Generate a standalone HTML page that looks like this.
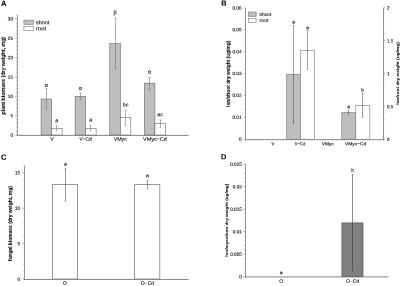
<!DOCTYPE html>
<html><head><meta charset="utf-8"><title>Figure</title>
<style>
html,body{margin:0;padding:0;background:#fff;}
body{width:400px;height:286px;overflow:hidden;}
svg{display:block;font-family:"Liberation Sans", sans-serif;}
</style></head><body>
<svg width="400" height="286" viewBox="0 0 400 286">
<rect x="0" y="0" width="400" height="286" fill="#fff"/>
<text x="1.00" y="5.90" font-size="7.6" text-anchor="start" font-weight="bold" fill="#000" stroke="#000" stroke-width="0.08" transform="rotate(0.05 1.00 5.90)">A</text>
<line x1="17.40" y1="135.90" x2="17.40" y2="15.22" stroke="#787878" stroke-width="0.8"/>
<line x1="17.40" y1="131.13" x2="16.20" y2="131.13" stroke="#787878" stroke-width="0.55"/>
<line x1="17.40" y1="127.26" x2="16.20" y2="127.26" stroke="#787878" stroke-width="0.55"/>
<line x1="17.40" y1="123.39" x2="16.20" y2="123.39" stroke="#787878" stroke-width="0.55"/>
<line x1="17.40" y1="119.52" x2="16.20" y2="119.52" stroke="#787878" stroke-width="0.55"/>
<line x1="17.40" y1="111.78" x2="16.20" y2="111.78" stroke="#787878" stroke-width="0.55"/>
<line x1="17.40" y1="107.91" x2="16.20" y2="107.91" stroke="#787878" stroke-width="0.55"/>
<line x1="17.40" y1="104.04" x2="16.20" y2="104.04" stroke="#787878" stroke-width="0.55"/>
<line x1="17.40" y1="100.17" x2="16.20" y2="100.17" stroke="#787878" stroke-width="0.55"/>
<line x1="17.40" y1="92.43" x2="16.20" y2="92.43" stroke="#787878" stroke-width="0.55"/>
<line x1="17.40" y1="88.56" x2="16.20" y2="88.56" stroke="#787878" stroke-width="0.55"/>
<line x1="17.40" y1="84.69" x2="16.20" y2="84.69" stroke="#787878" stroke-width="0.55"/>
<line x1="17.40" y1="80.82" x2="16.20" y2="80.82" stroke="#787878" stroke-width="0.55"/>
<line x1="17.40" y1="73.08" x2="16.20" y2="73.08" stroke="#787878" stroke-width="0.55"/>
<line x1="17.40" y1="69.21" x2="16.20" y2="69.21" stroke="#787878" stroke-width="0.55"/>
<line x1="17.40" y1="65.34" x2="16.20" y2="65.34" stroke="#787878" stroke-width="0.55"/>
<line x1="17.40" y1="61.47" x2="16.20" y2="61.47" stroke="#787878" stroke-width="0.55"/>
<line x1="17.40" y1="53.73" x2="16.20" y2="53.73" stroke="#787878" stroke-width="0.55"/>
<line x1="17.40" y1="49.86" x2="16.20" y2="49.86" stroke="#787878" stroke-width="0.55"/>
<line x1="17.40" y1="45.99" x2="16.20" y2="45.99" stroke="#787878" stroke-width="0.55"/>
<line x1="17.40" y1="42.12" x2="16.20" y2="42.12" stroke="#787878" stroke-width="0.55"/>
<line x1="17.40" y1="34.38" x2="16.20" y2="34.38" stroke="#787878" stroke-width="0.55"/>
<line x1="17.40" y1="30.51" x2="16.20" y2="30.51" stroke="#787878" stroke-width="0.55"/>
<line x1="17.40" y1="26.64" x2="16.20" y2="26.64" stroke="#787878" stroke-width="0.55"/>
<line x1="17.40" y1="22.77" x2="16.20" y2="22.77" stroke="#787878" stroke-width="0.55"/>
<line x1="17.40" y1="15.03" x2="16.20" y2="15.03" stroke="#787878" stroke-width="0.55"/>
<line x1="17.40" y1="135.00" x2="15.20" y2="135.00" stroke="#787878" stroke-width="0.6"/>
<text x="13.10" y="136.73" font-size="4.8" text-anchor="end" font-weight="normal" fill="#111" stroke="#111" stroke-width="0.12" transform="rotate(0.05 13.10 136.73)">0</text>
<line x1="17.40" y1="115.65" x2="15.20" y2="115.65" stroke="#787878" stroke-width="0.6"/>
<text x="13.10" y="117.38" font-size="4.8" text-anchor="end" font-weight="normal" fill="#111" stroke="#111" stroke-width="0.12" transform="rotate(0.05 13.10 117.38)">5</text>
<line x1="17.40" y1="96.30" x2="15.20" y2="96.30" stroke="#787878" stroke-width="0.6"/>
<text x="13.10" y="98.03" font-size="4.8" text-anchor="end" font-weight="normal" fill="#111" stroke="#111" stroke-width="0.12" transform="rotate(0.05 13.10 98.03)">10</text>
<line x1="17.40" y1="76.95" x2="15.20" y2="76.95" stroke="#787878" stroke-width="0.6"/>
<text x="13.10" y="78.68" font-size="4.8" text-anchor="end" font-weight="normal" fill="#111" stroke="#111" stroke-width="0.12" transform="rotate(0.05 13.10 78.68)">15</text>
<line x1="17.40" y1="57.60" x2="15.20" y2="57.60" stroke="#787878" stroke-width="0.6"/>
<text x="13.10" y="59.33" font-size="4.8" text-anchor="end" font-weight="normal" fill="#111" stroke="#111" stroke-width="0.12" transform="rotate(0.05 13.10 59.33)">20</text>
<line x1="17.40" y1="38.25" x2="15.20" y2="38.25" stroke="#787878" stroke-width="0.6"/>
<text x="13.10" y="39.98" font-size="4.8" text-anchor="end" font-weight="normal" fill="#111" stroke="#111" stroke-width="0.12" transform="rotate(0.05 13.10 39.98)">25</text>
<line x1="17.40" y1="18.90" x2="15.20" y2="18.90" stroke="#787878" stroke-width="0.6"/>
<text x="13.10" y="20.63" font-size="4.8" text-anchor="end" font-weight="normal" fill="#111" stroke="#111" stroke-width="0.12" transform="rotate(0.05 13.10 20.63)">30</text>
<line x1="17.00" y1="135.40" x2="188.70" y2="135.40" stroke="#787878" stroke-width="0.9"/>
<text x="4.60" y="75.70" font-size="4.9" text-anchor="middle" font-weight="bold" fill="#111" stroke="#111" stroke-width="0.08" transform="rotate(-90 4.60 75.70)" textLength="77.6" lengthAdjust="spacingAndGlyphs">plant biomass (dry weight, mg)</text>
<rect x="41.10" y="99.01" width="10.50" height="35.99" fill="#bebebe" stroke="#686868" stroke-width="0.6"/>
<rect x="51.60" y="128.42" width="10.50" height="6.58" fill="#fff" stroke="#686868" stroke-width="0.6"/>
<line x1="46.50" y1="88.56" x2="46.50" y2="109.07" stroke="#707070" stroke-width="0.55"/>
<line x1="45.50" y1="88.56" x2="47.50" y2="88.56" stroke="#707070" stroke-width="0.5"/>
<line x1="45.50" y1="109.07" x2="47.50" y2="109.07" stroke="#707070" stroke-width="0.5"/>
<line x1="56.50" y1="125.33" x2="56.50" y2="130.55" stroke="#707070" stroke-width="0.55"/>
<line x1="55.50" y1="125.33" x2="57.50" y2="125.33" stroke="#707070" stroke-width="0.5"/>
<line x1="55.50" y1="130.55" x2="57.50" y2="130.55" stroke="#707070" stroke-width="0.5"/>
<text x="46.35" y="86.92" font-size="5.6" text-anchor="middle" font-weight="normal" fill="#111" stroke="#111" stroke-width="0.12" transform="rotate(0.05 46.35 86.92)">α</text>
<text x="56.85" y="122.21" font-size="5.3" text-anchor="middle" font-weight="normal" fill="#111" stroke="#111" stroke-width="0.12" transform="rotate(0.05 56.85 122.21)">a</text>
<text x="51.80" y="140.80" font-size="5.0" text-anchor="middle" font-weight="normal" fill="#111" stroke="#111" stroke-width="0.12" transform="rotate(0.05 51.80 140.80)">V</text>
<rect x="75.10" y="96.30" width="10.50" height="38.70" fill="#bebebe" stroke="#686868" stroke-width="0.6"/>
<rect x="85.60" y="128.42" width="10.50" height="6.58" fill="#fff" stroke="#686868" stroke-width="0.6"/>
<line x1="80.50" y1="93.20" x2="80.50" y2="99.78" stroke="#707070" stroke-width="0.55"/>
<line x1="79.50" y1="93.20" x2="81.50" y2="93.20" stroke="#707070" stroke-width="0.5"/>
<line x1="79.50" y1="99.78" x2="81.50" y2="99.78" stroke="#707070" stroke-width="0.5"/>
<line x1="90.50" y1="125.33" x2="90.50" y2="130.55" stroke="#707070" stroke-width="0.55"/>
<line x1="89.50" y1="125.33" x2="91.50" y2="125.33" stroke="#707070" stroke-width="0.5"/>
<line x1="89.50" y1="130.55" x2="91.50" y2="130.55" stroke="#707070" stroke-width="0.5"/>
<text x="80.35" y="90.02" font-size="5.6" text-anchor="middle" font-weight="normal" fill="#111" stroke="#111" stroke-width="0.12" transform="rotate(0.05 80.35 90.02)">α</text>
<text x="90.85" y="121.61" font-size="5.3" text-anchor="middle" font-weight="normal" fill="#111" stroke="#111" stroke-width="0.12" transform="rotate(0.05 90.85 121.61)">a</text>
<text x="85.60" y="140.80" font-size="5.0" text-anchor="middle" font-weight="normal" fill="#111" stroke="#111" stroke-width="0.12" transform="rotate(0.05 85.60 140.80)" textLength="12.4" lengthAdjust="spacingAndGlyphs">V−Cd</text>
<rect x="109.80" y="43.67" width="10.50" height="91.33" fill="#bebebe" stroke="#686868" stroke-width="0.6"/>
<rect x="120.30" y="117.59" width="10.50" height="17.41" fill="#fff" stroke="#686868" stroke-width="0.6"/>
<line x1="115.50" y1="17.74" x2="115.50" y2="68.44" stroke="#707070" stroke-width="0.55"/>
<line x1="114.50" y1="17.74" x2="116.50" y2="17.74" stroke="#707070" stroke-width="0.5"/>
<line x1="114.50" y1="68.44" x2="116.50" y2="68.44" stroke="#707070" stroke-width="0.5"/>
<line x1="125.50" y1="110.23" x2="125.50" y2="125.33" stroke="#707070" stroke-width="0.55"/>
<line x1="124.50" y1="110.23" x2="126.50" y2="110.23" stroke="#707070" stroke-width="0.5"/>
<line x1="124.50" y1="125.33" x2="126.50" y2="125.33" stroke="#707070" stroke-width="0.5"/>
<text x="115.05" y="14.32" font-size="5.6" text-anchor="middle" font-weight="normal" fill="#111" stroke="#111" stroke-width="0.12" transform="rotate(0.05 115.05 14.32)">β</text>
<text x="125.55" y="106.51" font-size="5.3" text-anchor="middle" font-weight="normal" fill="#111" stroke="#111" stroke-width="0.12" transform="rotate(0.05 125.55 106.51)">bc</text>
<text x="120.30" y="140.80" font-size="5.0" text-anchor="middle" font-weight="normal" fill="#111" stroke="#111" stroke-width="0.12" transform="rotate(0.05 120.30 140.80)" textLength="13.1" lengthAdjust="spacingAndGlyphs">VMyc</text>
<rect x="144.40" y="83.14" width="10.50" height="51.86" fill="#bebebe" stroke="#686868" stroke-width="0.6"/>
<rect x="154.90" y="123.39" width="10.50" height="11.61" fill="#fff" stroke="#686868" stroke-width="0.6"/>
<line x1="149.50" y1="77.34" x2="149.50" y2="89.72" stroke="#707070" stroke-width="0.55"/>
<line x1="148.50" y1="77.34" x2="150.50" y2="77.34" stroke="#707070" stroke-width="0.5"/>
<line x1="148.50" y1="89.72" x2="150.50" y2="89.72" stroke="#707070" stroke-width="0.5"/>
<line x1="160.50" y1="119.91" x2="160.50" y2="127.65" stroke="#707070" stroke-width="0.55"/>
<line x1="159.50" y1="119.91" x2="161.50" y2="119.91" stroke="#707070" stroke-width="0.5"/>
<line x1="159.50" y1="127.65" x2="161.50" y2="127.65" stroke="#707070" stroke-width="0.5"/>
<text x="149.65" y="73.62" font-size="5.6" text-anchor="middle" font-weight="normal" fill="#111" stroke="#111" stroke-width="0.12" transform="rotate(0.05 149.65 73.62)">α</text>
<text x="160.15" y="116.21" font-size="5.3" text-anchor="middle" font-weight="normal" fill="#111" stroke="#111" stroke-width="0.12" transform="rotate(0.05 160.15 116.21)">ac</text>
<text x="154.90" y="140.80" font-size="5.0" text-anchor="middle" font-weight="normal" fill="#111" stroke="#111" stroke-width="0.12" transform="rotate(0.05 154.90 140.80)" textLength="23.6" lengthAdjust="spacingAndGlyphs">VMyc−Cd</text>
<rect x="23.90" y="20.10" width="9.60" height="4.30" fill="#bebebe" stroke="#787878" stroke-width="0.6"/>
<rect x="23.90" y="26.40" width="9.60" height="4.30" fill="#fff" stroke="#787878" stroke-width="0.6"/>
<text x="36.00" y="24.15" font-size="5.3" text-anchor="start" font-weight="normal" fill="#111" stroke="#111" stroke-width="0.12" transform="rotate(0.05 36.00 24.15)" textLength="13.4" lengthAdjust="spacingAndGlyphs">shoot</text>
<text x="36.00" y="30.20" font-size="5.3" text-anchor="start" font-weight="normal" fill="#111" stroke="#111" stroke-width="0.12" transform="rotate(0.05 36.00 30.20)" textLength="10.2" lengthAdjust="spacingAndGlyphs">root</text>
<text x="221.20" y="5.60" font-size="7.3" text-anchor="start" font-weight="bold" fill="#000" stroke="#000" stroke-width="0.08" transform="rotate(0.05 221.20 5.60)">B</text>
<line x1="245.50" y1="140.10" x2="245.50" y2="8.10" stroke="#787878" stroke-width="0.8"/>
<line x1="245.50" y1="134.83" x2="244.60" y2="134.83" stroke="#787878" stroke-width="0.55"/>
<line x1="245.50" y1="130.46" x2="244.60" y2="130.46" stroke="#787878" stroke-width="0.55"/>
<line x1="245.50" y1="126.09" x2="244.60" y2="126.09" stroke="#787878" stroke-width="0.55"/>
<line x1="245.50" y1="121.72" x2="244.60" y2="121.72" stroke="#787878" stroke-width="0.55"/>
<line x1="245.50" y1="112.98" x2="244.60" y2="112.98" stroke="#787878" stroke-width="0.55"/>
<line x1="245.50" y1="108.61" x2="244.60" y2="108.61" stroke="#787878" stroke-width="0.55"/>
<line x1="245.50" y1="104.24" x2="244.60" y2="104.24" stroke="#787878" stroke-width="0.55"/>
<line x1="245.50" y1="99.87" x2="244.60" y2="99.87" stroke="#787878" stroke-width="0.55"/>
<line x1="245.50" y1="91.13" x2="244.60" y2="91.13" stroke="#787878" stroke-width="0.55"/>
<line x1="245.50" y1="86.76" x2="244.60" y2="86.76" stroke="#787878" stroke-width="0.55"/>
<line x1="245.50" y1="82.39" x2="244.60" y2="82.39" stroke="#787878" stroke-width="0.55"/>
<line x1="245.50" y1="78.02" x2="244.60" y2="78.02" stroke="#787878" stroke-width="0.55"/>
<line x1="245.50" y1="69.28" x2="244.60" y2="69.28" stroke="#787878" stroke-width="0.55"/>
<line x1="245.50" y1="64.91" x2="244.60" y2="64.91" stroke="#787878" stroke-width="0.55"/>
<line x1="245.50" y1="60.54" x2="244.60" y2="60.54" stroke="#787878" stroke-width="0.55"/>
<line x1="245.50" y1="56.17" x2="244.60" y2="56.17" stroke="#787878" stroke-width="0.55"/>
<line x1="245.50" y1="47.43" x2="244.60" y2="47.43" stroke="#787878" stroke-width="0.55"/>
<line x1="245.50" y1="43.06" x2="244.60" y2="43.06" stroke="#787878" stroke-width="0.55"/>
<line x1="245.50" y1="38.69" x2="244.60" y2="38.69" stroke="#787878" stroke-width="0.55"/>
<line x1="245.50" y1="34.32" x2="244.60" y2="34.32" stroke="#787878" stroke-width="0.55"/>
<line x1="245.50" y1="25.58" x2="244.60" y2="25.58" stroke="#787878" stroke-width="0.55"/>
<line x1="245.50" y1="21.21" x2="244.60" y2="21.21" stroke="#787878" stroke-width="0.55"/>
<line x1="245.50" y1="16.84" x2="244.60" y2="16.84" stroke="#787878" stroke-width="0.55"/>
<line x1="245.50" y1="12.47" x2="244.60" y2="12.47" stroke="#787878" stroke-width="0.55"/>
<line x1="245.50" y1="139.20" x2="243.90" y2="139.20" stroke="#787878" stroke-width="0.6"/>
<text x="241.50" y="140.59" font-size="4.7" text-anchor="end" font-weight="normal" fill="#111" stroke="#111" stroke-width="0.12" transform="rotate(0.05 241.50 140.59)">0</text>
<line x1="245.50" y1="117.35" x2="243.90" y2="117.35" stroke="#787878" stroke-width="0.6"/>
<text x="241.50" y="118.74" font-size="4.7" text-anchor="end" font-weight="normal" fill="#111" stroke="#111" stroke-width="0.12" transform="rotate(0.05 241.50 118.74)">0.01</text>
<line x1="245.50" y1="95.50" x2="243.90" y2="95.50" stroke="#787878" stroke-width="0.6"/>
<text x="241.50" y="96.89" font-size="4.7" text-anchor="end" font-weight="normal" fill="#111" stroke="#111" stroke-width="0.12" transform="rotate(0.05 241.50 96.89)">0.02</text>
<line x1="245.50" y1="73.65" x2="243.90" y2="73.65" stroke="#787878" stroke-width="0.6"/>
<text x="241.50" y="75.04" font-size="4.7" text-anchor="end" font-weight="normal" fill="#111" stroke="#111" stroke-width="0.12" transform="rotate(0.05 241.50 75.04)">0.03</text>
<line x1="245.50" y1="51.80" x2="243.90" y2="51.80" stroke="#787878" stroke-width="0.6"/>
<text x="241.50" y="53.19" font-size="4.7" text-anchor="end" font-weight="normal" fill="#111" stroke="#111" stroke-width="0.12" transform="rotate(0.05 241.50 53.19)">0.04</text>
<line x1="245.50" y1="29.95" x2="243.90" y2="29.95" stroke="#787878" stroke-width="0.6"/>
<text x="241.50" y="31.34" font-size="4.7" text-anchor="end" font-weight="normal" fill="#111" stroke="#111" stroke-width="0.12" transform="rotate(0.05 241.50 31.34)">0.05</text>
<line x1="245.50" y1="8.10" x2="243.90" y2="8.10" stroke="#787878" stroke-width="0.6"/>
<text x="241.50" y="9.49" font-size="4.7" text-anchor="end" font-weight="normal" fill="#111" stroke="#111" stroke-width="0.12" transform="rotate(0.05 241.50 9.49)">0.06</text>
<line x1="245.10" y1="139.65" x2="383.90" y2="139.65" stroke="#787878" stroke-width="0.9"/>
<line x1="383.50" y1="140.10" x2="383.50" y2="7.80" stroke="#787878" stroke-width="0.8"/>
<line x1="383.50" y1="132.63" x2="384.40" y2="132.63" stroke="#787878" stroke-width="0.55"/>
<line x1="383.50" y1="126.06" x2="384.40" y2="126.06" stroke="#787878" stroke-width="0.55"/>
<line x1="383.50" y1="119.49" x2="384.40" y2="119.49" stroke="#787878" stroke-width="0.55"/>
<line x1="383.50" y1="112.92" x2="384.40" y2="112.92" stroke="#787878" stroke-width="0.55"/>
<line x1="383.50" y1="99.78" x2="384.40" y2="99.78" stroke="#787878" stroke-width="0.55"/>
<line x1="383.50" y1="93.21" x2="384.40" y2="93.21" stroke="#787878" stroke-width="0.55"/>
<line x1="383.50" y1="86.64" x2="384.40" y2="86.64" stroke="#787878" stroke-width="0.55"/>
<line x1="383.50" y1="80.07" x2="384.40" y2="80.07" stroke="#787878" stroke-width="0.55"/>
<line x1="383.50" y1="66.93" x2="384.40" y2="66.93" stroke="#787878" stroke-width="0.55"/>
<line x1="383.50" y1="60.36" x2="384.40" y2="60.36" stroke="#787878" stroke-width="0.55"/>
<line x1="383.50" y1="53.79" x2="384.40" y2="53.79" stroke="#787878" stroke-width="0.55"/>
<line x1="383.50" y1="47.22" x2="384.40" y2="47.22" stroke="#787878" stroke-width="0.55"/>
<line x1="383.50" y1="34.08" x2="384.40" y2="34.08" stroke="#787878" stroke-width="0.55"/>
<line x1="383.50" y1="27.51" x2="384.40" y2="27.51" stroke="#787878" stroke-width="0.55"/>
<line x1="383.50" y1="20.94" x2="384.40" y2="20.94" stroke="#787878" stroke-width="0.55"/>
<line x1="383.50" y1="14.37" x2="384.40" y2="14.37" stroke="#787878" stroke-width="0.55"/>
<line x1="383.50" y1="139.20" x2="385.10" y2="139.20" stroke="#787878" stroke-width="0.6"/>
<text x="386.90" y="141.02" font-size="4.5" text-anchor="start" font-weight="normal" fill="#111" stroke="#111" stroke-width="0.12" transform="rotate(0.05 386.90 141.02)">0</text>
<line x1="383.50" y1="106.35" x2="385.10" y2="106.35" stroke="#787878" stroke-width="0.6"/>
<text x="386.90" y="108.17" font-size="4.5" text-anchor="start" font-weight="normal" fill="#111" stroke="#111" stroke-width="0.12" transform="rotate(0.05 386.90 108.17)">0.5</text>
<line x1="383.50" y1="73.50" x2="385.10" y2="73.50" stroke="#787878" stroke-width="0.6"/>
<text x="386.90" y="75.32" font-size="4.5" text-anchor="start" font-weight="normal" fill="#111" stroke="#111" stroke-width="0.12" transform="rotate(0.05 386.90 75.32)">1</text>
<line x1="383.50" y1="40.65" x2="385.10" y2="40.65" stroke="#787878" stroke-width="0.6"/>
<text x="386.90" y="42.47" font-size="4.5" text-anchor="start" font-weight="normal" fill="#111" stroke="#111" stroke-width="0.12" transform="rotate(0.05 386.90 42.47)">1.5</text>
<line x1="383.50" y1="7.80" x2="385.10" y2="7.80" stroke="#787878" stroke-width="0.6"/>
<text x="386.90" y="9.62" font-size="4.5" text-anchor="start" font-weight="normal" fill="#111" stroke="#111" stroke-width="0.12" transform="rotate(0.05 386.90 9.62)">2</text>
<text x="230.30" y="73.80" font-size="4.7" text-anchor="middle" font-weight="bold" fill="#111" stroke="#111" stroke-width="0.08" transform="rotate(-90 230.30 73.80)" textLength="66.2" lengthAdjust="spacingAndGlyphs">Ion/shoot dry weight (ug/mg)</text>
<text x="398.70" y="73.50" font-size="4.3" text-anchor="middle" font-weight="bold" fill="#111" stroke="#111" stroke-width="0.08" transform="rotate(-90 398.70 73.50)" textLength="62.6" lengthAdjust="spacingAndGlyphs">Ion/root dry weight (ug/mg)</text>
<rect x="286.60" y="74.20" width="14.00" height="65.00" fill="#bebebe" stroke="#787878" stroke-width="0.6"/>
<rect x="300.60" y="50.30" width="14.00" height="88.90" fill="#fff" stroke="#787878" stroke-width="0.6"/>
<line x1="293.50" y1="25.50" x2="293.50" y2="123.70" stroke="#555" stroke-width="0.55"/>
<line x1="292.70" y1="25.50" x2="294.30" y2="25.50" stroke="#555" stroke-width="0.5"/>
<line x1="292.70" y1="123.70" x2="294.30" y2="123.70" stroke="#555" stroke-width="0.5"/>
<line x1="307.50" y1="30.50" x2="307.50" y2="69.70" stroke="#555" stroke-width="0.55"/>
<line x1="306.70" y1="30.50" x2="308.30" y2="30.50" stroke="#555" stroke-width="0.5"/>
<line x1="306.70" y1="69.70" x2="308.30" y2="69.70" stroke="#555" stroke-width="0.5"/>
<text x="293.60" y="23.57" font-size="5.2" text-anchor="middle" font-weight="normal" fill="#111" stroke="#111" stroke-width="0.12" transform="rotate(0.05 293.60 23.57)">a</text>
<text x="307.60" y="29.37" font-size="5.2" text-anchor="middle" font-weight="normal" fill="#111" stroke="#111" stroke-width="0.12" transform="rotate(0.05 307.60 29.37)">a</text>
<rect x="341.80" y="112.40" width="14.00" height="26.80" fill="#bebebe" stroke="#787878" stroke-width="0.6"/>
<rect x="355.80" y="105.30" width="14.00" height="33.90" fill="#fff" stroke="#787878" stroke-width="0.6"/>
<line x1="348.50" y1="110.30" x2="348.50" y2="114.30" stroke="#555" stroke-width="0.55"/>
<line x1="347.70" y1="110.30" x2="349.30" y2="110.30" stroke="#555" stroke-width="0.5"/>
<line x1="347.70" y1="114.30" x2="349.30" y2="114.30" stroke="#555" stroke-width="0.5"/>
<line x1="362.50" y1="93.30" x2="362.50" y2="117.30" stroke="#555" stroke-width="0.55"/>
<line x1="361.70" y1="93.30" x2="363.30" y2="93.30" stroke="#555" stroke-width="0.5"/>
<line x1="361.70" y1="117.30" x2="363.30" y2="117.30" stroke="#555" stroke-width="0.5"/>
<text x="348.80" y="108.17" font-size="5.2" text-anchor="middle" font-weight="normal" fill="#111" stroke="#111" stroke-width="0.12" transform="rotate(0.05 348.80 108.17)">a</text>
<text x="362.80" y="91.87" font-size="5.2" text-anchor="middle" font-weight="normal" fill="#111" stroke="#111" stroke-width="0.12" transform="rotate(0.05 362.80 91.87)">b</text>
<text x="273.00" y="145.15" font-size="4.3" text-anchor="middle" font-weight="normal" fill="#111" stroke="#111" stroke-width="0.12" transform="rotate(0.05 273.00 145.15)">V</text>
<text x="300.00" y="145.15" font-size="4.3" text-anchor="middle" font-weight="normal" fill="#111" stroke="#111" stroke-width="0.12" transform="rotate(0.05 300.00 145.15)" textLength="10.5" lengthAdjust="spacingAndGlyphs">V−Cd</text>
<text x="327.70" y="145.15" font-size="4.3" text-anchor="middle" font-weight="normal" fill="#111" stroke="#111" stroke-width="0.12" transform="rotate(0.05 327.70 145.15)" textLength="12.0" lengthAdjust="spacingAndGlyphs">VMyc</text>
<text x="355.60" y="145.15" font-size="4.3" text-anchor="middle" font-weight="normal" fill="#111" stroke="#111" stroke-width="0.12" transform="rotate(0.05 355.60 145.15)" textLength="21.3" lengthAdjust="spacingAndGlyphs">VMyc−Cd</text>
<rect x="248.30" y="12.00" width="7.80" height="4.40" fill="#bebebe" stroke="#787878" stroke-width="0.6"/>
<rect x="248.30" y="18.30" width="7.80" height="4.10" fill="#fff" stroke="#787878" stroke-width="0.6"/>
<text x="259.60" y="15.93" font-size="4.8" text-anchor="start" font-weight="normal" fill="#111" stroke="#111" stroke-width="0.12" transform="rotate(0.05 259.60 15.93)" textLength="11.7" lengthAdjust="spacingAndGlyphs">shoot</text>
<text x="259.60" y="21.93" font-size="4.8" text-anchor="start" font-weight="normal" fill="#111" stroke="#111" stroke-width="0.12" transform="rotate(0.05 259.60 21.93)" textLength="8.8" lengthAdjust="spacingAndGlyphs">root</text>
<text x="1.00" y="159.70" font-size="7.6" text-anchor="start" font-weight="bold" fill="#000" stroke="#000" stroke-width="0.08" transform="rotate(0.05 1.00 159.70)">C</text>
<line x1="24.50" y1="279.90" x2="24.50" y2="165.72" stroke="#787878" stroke-width="0.8"/>
<line x1="24.50" y1="271.92" x2="23.40" y2="271.92" stroke="#787878" stroke-width="0.55"/>
<line x1="24.50" y1="264.84" x2="23.40" y2="264.84" stroke="#787878" stroke-width="0.55"/>
<line x1="24.50" y1="257.76" x2="23.40" y2="257.76" stroke="#787878" stroke-width="0.55"/>
<line x1="24.50" y1="250.68" x2="23.40" y2="250.68" stroke="#787878" stroke-width="0.55"/>
<line x1="24.50" y1="236.52" x2="23.40" y2="236.52" stroke="#787878" stroke-width="0.55"/>
<line x1="24.50" y1="229.44" x2="23.40" y2="229.44" stroke="#787878" stroke-width="0.55"/>
<line x1="24.50" y1="222.36" x2="23.40" y2="222.36" stroke="#787878" stroke-width="0.55"/>
<line x1="24.50" y1="215.28" x2="23.40" y2="215.28" stroke="#787878" stroke-width="0.55"/>
<line x1="24.50" y1="201.12" x2="23.40" y2="201.12" stroke="#787878" stroke-width="0.55"/>
<line x1="24.50" y1="194.04" x2="23.40" y2="194.04" stroke="#787878" stroke-width="0.55"/>
<line x1="24.50" y1="186.96" x2="23.40" y2="186.96" stroke="#787878" stroke-width="0.55"/>
<line x1="24.50" y1="179.88" x2="23.40" y2="179.88" stroke="#787878" stroke-width="0.55"/>
<line x1="24.50" y1="165.72" x2="23.40" y2="165.72" stroke="#787878" stroke-width="0.55"/>
<line x1="24.50" y1="279.00" x2="22.10" y2="279.00" stroke="#787878" stroke-width="0.6"/>
<text x="20.00" y="280.66" font-size="4.6" text-anchor="end" font-weight="normal" fill="#111" stroke="#111" stroke-width="0.12" transform="rotate(0.05 20.00 280.66)">0</text>
<line x1="24.50" y1="243.60" x2="22.10" y2="243.60" stroke="#787878" stroke-width="0.6"/>
<text x="20.00" y="245.26" font-size="4.6" text-anchor="end" font-weight="normal" fill="#111" stroke="#111" stroke-width="0.12" transform="rotate(0.05 20.00 245.26)">5</text>
<line x1="24.50" y1="208.20" x2="22.10" y2="208.20" stroke="#787878" stroke-width="0.6"/>
<text x="20.00" y="209.86" font-size="4.6" text-anchor="end" font-weight="normal" fill="#111" stroke="#111" stroke-width="0.12" transform="rotate(0.05 20.00 209.86)">10</text>
<line x1="24.50" y1="172.80" x2="22.10" y2="172.80" stroke="#787878" stroke-width="0.6"/>
<text x="20.00" y="174.46" font-size="4.6" text-anchor="end" font-weight="normal" fill="#111" stroke="#111" stroke-width="0.12" transform="rotate(0.05 20.00 174.46)">15</text>
<line x1="24.10" y1="279.45" x2="188.70" y2="279.45" stroke="#787878" stroke-width="0.9"/>
<text x="11.80" y="223.60" font-size="4.8" text-anchor="middle" font-weight="bold" fill="#111" stroke="#111" stroke-width="0.08" transform="rotate(-90 11.80 223.60)" textLength="75.2" lengthAdjust="spacingAndGlyphs">fungal biomass (dry weight, mg)</text>
<rect x="52.40" y="184.60" width="25.20" height="94.40" fill="#fff" stroke="#808080" stroke-width="0.8"/>
<rect x="134.60" y="184.60" width="25.20" height="94.40" fill="#fff" stroke="#808080" stroke-width="0.8"/>
<line x1="65.50" y1="168.20" x2="65.50" y2="201.00" stroke="#444" stroke-width="0.55"/>
<line x1="64.70" y1="168.20" x2="66.30" y2="168.20" stroke="#444" stroke-width="0.5"/>
<line x1="64.70" y1="201.00" x2="66.30" y2="201.00" stroke="#444" stroke-width="0.5"/>
<line x1="147.50" y1="180.30" x2="147.50" y2="188.80" stroke="#444" stroke-width="0.55"/>
<line x1="146.70" y1="180.30" x2="148.30" y2="180.30" stroke="#444" stroke-width="0.5"/>
<line x1="146.70" y1="188.80" x2="148.30" y2="188.80" stroke="#444" stroke-width="0.5"/>
<text x="65.50" y="165.47" font-size="5.2" text-anchor="middle" font-weight="normal" fill="#111" stroke="#111" stroke-width="0.12" transform="rotate(0.05 65.50 165.47)">a</text>
<text x="147.50" y="177.37" font-size="5.2" text-anchor="middle" font-weight="normal" fill="#111" stroke="#111" stroke-width="0.12" transform="rotate(0.05 147.50 177.37)">a</text>
<text x="65.00" y="284.66" font-size="4.9" text-anchor="middle" font-weight="normal" fill="#111" stroke="#111" stroke-width="0.12" transform="rotate(0.05 65.00 284.66)">O</text>
<text x="147.50" y="284.66" font-size="4.9" text-anchor="middle" font-weight="normal" fill="#111" stroke="#111" stroke-width="0.12" transform="rotate(0.05 147.50 284.66)" textLength="13.4" lengthAdjust="spacingAndGlyphs">O−Cd</text>
<text x="221.10" y="159.30" font-size="7.4" text-anchor="start" font-weight="bold" fill="#000" stroke="#000" stroke-width="0.08" transform="rotate(0.05 221.10 159.30)">D</text>
<line x1="245.50" y1="277.50" x2="245.50" y2="164.20" stroke="#787878" stroke-width="0.8"/>
<line x1="245.50" y1="272.10" x2="244.40" y2="272.10" stroke="#787878" stroke-width="0.55"/>
<line x1="245.50" y1="267.61" x2="244.40" y2="267.61" stroke="#787878" stroke-width="0.55"/>
<line x1="245.50" y1="263.11" x2="244.40" y2="263.11" stroke="#787878" stroke-width="0.55"/>
<line x1="245.50" y1="258.62" x2="244.40" y2="258.62" stroke="#787878" stroke-width="0.55"/>
<line x1="245.50" y1="249.62" x2="244.40" y2="249.62" stroke="#787878" stroke-width="0.55"/>
<line x1="245.50" y1="245.13" x2="244.40" y2="245.13" stroke="#787878" stroke-width="0.55"/>
<line x1="245.50" y1="240.63" x2="244.40" y2="240.63" stroke="#787878" stroke-width="0.55"/>
<line x1="245.50" y1="236.14" x2="244.40" y2="236.14" stroke="#787878" stroke-width="0.55"/>
<line x1="245.50" y1="227.14" x2="244.40" y2="227.14" stroke="#787878" stroke-width="0.55"/>
<line x1="245.50" y1="222.65" x2="244.40" y2="222.65" stroke="#787878" stroke-width="0.55"/>
<line x1="245.50" y1="218.15" x2="244.40" y2="218.15" stroke="#787878" stroke-width="0.55"/>
<line x1="245.50" y1="213.66" x2="244.40" y2="213.66" stroke="#787878" stroke-width="0.55"/>
<line x1="245.50" y1="204.66" x2="244.40" y2="204.66" stroke="#787878" stroke-width="0.55"/>
<line x1="245.50" y1="200.17" x2="244.40" y2="200.17" stroke="#787878" stroke-width="0.55"/>
<line x1="245.50" y1="195.67" x2="244.40" y2="195.67" stroke="#787878" stroke-width="0.55"/>
<line x1="245.50" y1="191.18" x2="244.40" y2="191.18" stroke="#787878" stroke-width="0.55"/>
<line x1="245.50" y1="182.18" x2="244.40" y2="182.18" stroke="#787878" stroke-width="0.55"/>
<line x1="245.50" y1="177.69" x2="244.40" y2="177.69" stroke="#787878" stroke-width="0.55"/>
<line x1="245.50" y1="173.19" x2="244.40" y2="173.19" stroke="#787878" stroke-width="0.55"/>
<line x1="245.50" y1="168.70" x2="244.40" y2="168.70" stroke="#787878" stroke-width="0.55"/>
<line x1="245.50" y1="276.60" x2="243.20" y2="276.60" stroke="#787878" stroke-width="0.6"/>
<text x="241.90" y="278.29" font-size="4.7" text-anchor="end" font-weight="normal" fill="#111" stroke="#111" stroke-width="0.12" transform="rotate(0.05 241.90 278.29)">0</text>
<line x1="245.50" y1="254.12" x2="243.20" y2="254.12" stroke="#787878" stroke-width="0.6"/>
<text x="241.90" y="255.81" font-size="4.7" text-anchor="end" font-weight="normal" fill="#111" stroke="#111" stroke-width="0.12" transform="rotate(0.05 241.90 255.81)">0.005</text>
<line x1="245.50" y1="231.64" x2="243.20" y2="231.64" stroke="#787878" stroke-width="0.6"/>
<text x="241.90" y="233.33" font-size="4.7" text-anchor="end" font-weight="normal" fill="#111" stroke="#111" stroke-width="0.12" transform="rotate(0.05 241.90 233.33)">0.01</text>
<line x1="245.50" y1="209.16" x2="243.20" y2="209.16" stroke="#787878" stroke-width="0.6"/>
<text x="241.90" y="210.85" font-size="4.7" text-anchor="end" font-weight="normal" fill="#111" stroke="#111" stroke-width="0.12" transform="rotate(0.05 241.90 210.85)">0.015</text>
<line x1="245.50" y1="186.68" x2="243.20" y2="186.68" stroke="#787878" stroke-width="0.6"/>
<text x="241.90" y="188.37" font-size="4.7" text-anchor="end" font-weight="normal" fill="#111" stroke="#111" stroke-width="0.12" transform="rotate(0.05 241.90 188.37)">0.02</text>
<line x1="245.50" y1="164.20" x2="243.20" y2="164.20" stroke="#787878" stroke-width="0.6"/>
<text x="241.90" y="165.89" font-size="4.7" text-anchor="end" font-weight="normal" fill="#111" stroke="#111" stroke-width="0.12" transform="rotate(0.05 241.90 165.89)">0.025</text>
<line x1="245.10" y1="276.90" x2="388.50" y2="276.90" stroke="#787878" stroke-width="0.9"/>
<text x="228.30" y="220.20" font-size="4.3" text-anchor="middle" font-weight="bold" fill="#111" stroke="#111" stroke-width="0.08" transform="rotate(-90 228.30 220.20)" textLength="73.0" lengthAdjust="spacingAndGlyphs">Ion/mycelium dry weight (ug/mg)</text>
<rect x="341.90" y="222.90" width="21.10" height="53.70" fill="#808080" stroke="#585858" stroke-width="0.7"/>
<line x1="352.50" y1="174.50" x2="352.50" y2="270.70" stroke="#333" stroke-width="0.55"/>
<line x1="351.70" y1="174.50" x2="353.30" y2="174.50" stroke="#333" stroke-width="0.5"/>
<line x1="351.70" y1="270.70" x2="353.30" y2="270.70" stroke="#333" stroke-width="0.5"/>
<text x="352.60" y="172.07" font-size="5.2" text-anchor="middle" font-weight="normal" fill="#111" stroke="#111" stroke-width="0.12" transform="rotate(0.05 352.60 172.07)">b</text>
<text x="281.20" y="274.27" font-size="5.2" text-anchor="middle" font-weight="normal" fill="#111" stroke="#111" stroke-width="0.12" transform="rotate(0.05 281.20 274.27)">a</text>
<text x="281.20" y="282.76" font-size="4.9" text-anchor="middle" font-weight="normal" fill="#111" stroke="#111" stroke-width="0.12" transform="rotate(0.05 281.20 282.76)">O</text>
<text x="352.60" y="282.76" font-size="4.9" text-anchor="middle" font-weight="normal" fill="#111" stroke="#111" stroke-width="0.12" transform="rotate(0.05 352.60 282.76)" textLength="13.2" lengthAdjust="spacingAndGlyphs">O−Cd</text>
</svg>
</body></html>
